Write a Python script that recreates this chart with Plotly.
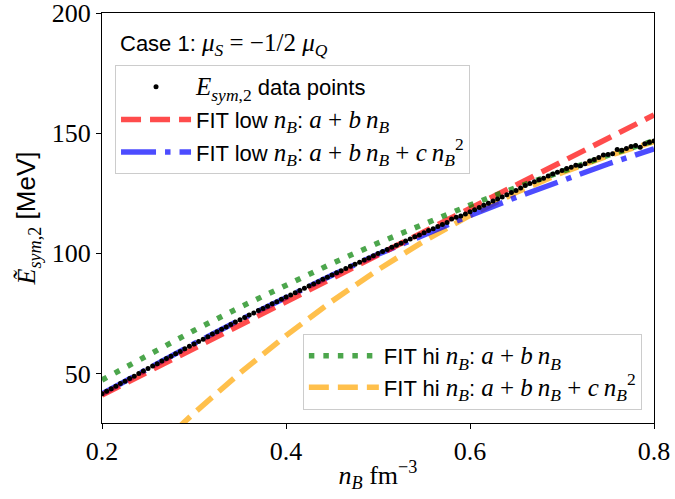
import plotly.graph_objects as go

# ---------------- data ----------------
nB_data = [round(0.200 + 0.005 * i, 3) for i in range(121)]
Esym_data = [
    41.6, 42.6, 43.7, 44.7, 45.8, 46.8, 47.9, 48.9, 50.0, 51.0,
    52.1, 53.1, 54.1, 55.2, 56.2, 57.2, 58.2, 59.2, 60.3, 61.3,
    62.3, 63.3, 64.3, 65.3, 66.4, 67.4, 68.4, 69.4, 70.4, 71.4,
    72.4, 73.3, 74.3, 75.2, 76.2, 77.1, 78.0, 79.0, 79.9, 80.9,
    81.8, 82.7, 83.6, 84.6, 85.5, 86.4, 87.3, 88.2, 89.2, 90.1,
    91.0, 91.9, 92.8, 93.7, 94.6, 95.5, 96.3, 97.2, 98.1, 99.0,
    99.9, 100.8, 101.6, 102.5, 103.4, 104.2, 105.1, 106.0, 106.9, 107.7,
    108.6, 109.5, 110.3, 111.2, 112.0, 112.8, 114.3, 115.0, 115.6, 116.4,
    117.3, 118.2, 119.1, 120.0, 120.9, 121.8, 122.6, 123.5, 124.4, 125.3,
    126.2, 127.2, 128.3, 129.1, 129.8, 130.6, 131.3, 132.2, 133.0, 133.8,
    134.5, 135.3, 135.9, 136.7, 136.5, 137.3, 138.4, 139.1, 139.9, 140.9,
    141.2, 141.5, 143.2, 142.9, 143.7, 144.5, 144.9, 144.2, 145.6, 146.3,
    146.8,
]

fit_low_lin_x = [0.20, 0.80]
fit_low_lin_y = [41.0, 157.6]

fit_grid_x = [0.20, 0.25, 0.30, 0.35, 0.40, 0.45, 0.50, 0.55, 0.60, 0.65, 0.70, 0.75, 0.80]
fit_low_quad_y = [41.5, 52.2, 62.4, 72.3, 81.8, 90.9, 99.6, 107.9, 115.8, 123.3, 130.4, 137.2, 143.5]
fit_hi_lin_y = [47.3, 57.8, 67.9, 77.6, 86.9, 95.8, 104.3, 112.4, 120.1, 127.4, 134.3, 140.8, 146.9]

fit_hi_quad_x = [0.28, 0.30, 0.35, 0.40, 0.45, 0.50, 0.55, 0.60, 0.65, 0.70, 0.75, 0.80]
fit_hi_quad_y = [26.4, 33.5, 50.2, 65.8, 80.1, 93.2, 105.1, 115.8, 125.3, 133.6, 140.6, 146.5]

x_ticks = [0.2, 0.4, 0.6, 0.8]
y_ticks = [50, 100, 150, 200]

# ---------------- styling helpers ----------------
SERIF = "Liberation Serif"
SANS = "Liberation Sans"


def m(s, size=None):
    st = f"font-family:{SERIF}"
    if size:
        st += f";font-size:{size}px"
    return f'<span style="{st}">{s}</span>'


SP = "\u2009"
MS = 25
nB = m("<i>n</i><sub><i>B</i></sub>", MS)
lin = m(f"<i>a</i> + <i>b</i>{SP}<i>n</i><sub><i>B</i></sub>", MS)
quad = m(f"<i>a</i> + <i>b</i>{SP}<i>n</i><sub><i>B</i></sub> + <i>c</i>{SP}<i>n</i><sub><i>B</i></sub><sup>2</sup>", MS)
lab_data = m("<i>E</i><sub><i>sym</i>,2</sub>", MS) + " data points"
lab_low_lin = "FIT low " + nB + ": " + lin
lab_low_quad = "FIT low " + nB + ": " + quad
lab_hi_lin = "FIT hi " + nB + ": " + lin
lab_hi_quad = "FIT hi " + nB + ": " + quad

fig = go.Figure()

fig.add_trace(go.Scatter(
    x=fit_hi_quad_x, y=fit_hi_quad_y, mode="lines", name=lab_hi_quad,
    line=dict(color="rgba(255,165,0,0.7)", width=5.5, dash="20px,9px"),
    legend="legend2", legendrank=5, legendgroup="h2",
))
fig.add_trace(go.Scatter(
    x=fit_grid_x, y=fit_low_quad_y, mode="lines", name=lab_low_quad,
    line=dict(color="rgba(0,0,255,0.7)", width=5.5, dash="35px,9px,5.5px,9px"),
    legend="legend", legendrank=3, legendgroup="g3",
))
fig.add_trace(go.Scatter(
    x=fit_low_lin_x, y=fit_low_lin_y, mode="lines", name=lab_low_lin,
    line=dict(color="rgba(255,0,0,0.7)", width=5.5, dash="20px,9px"),
    legend="legend", legendrank=2, legendgroup="g2",
))
fig.add_trace(go.Scatter(
    x=fit_grid_x, y=fit_hi_lin_y, mode="lines", name=lab_hi_lin,
    line=dict(color="rgba(0,128,0,0.7)", width=5.5, dash="5.5px,9px"),
    legend="legend2", legendrank=4, legendgroup="h1",
))
fig.add_trace(go.Scatter(
    x=nB_data, y=Esym_data, mode="markers", name=lab_data,
    marker=dict(color="black", size=5),
    legend="legend", legendrank=1, legendgroup="g1",
))

axis_common = dict(
    showgrid=False, zeroline=False, showline=True, linecolor="black", linewidth=1,
    mirror=True, ticks="outside", ticklen=5, tickwidth=1, tickcolor="black",
    tickfont=dict(family=SERIF, size=26, color="black"),
    ticklabeloverflow="allow",
)

fig.update_xaxes(
    range=[0.2, 0.8], tickvals=x_ticks, ticktext=[f"{v:.1f}" for v in x_ticks],
    title=dict(text=m("<i>n</i><sub><i>B</i></sub> fm<sup>−3</sup>"),
               font=dict(family=SERIF, size=26, color="black"), standoff=0),
    **axis_common,
)
fig.update_yaxes(
    range=[29.4, 200.05], tickvals=y_ticks, ticktext=[str(v) for v in y_ticks],
    title=dict(text=m("<i>E\u0303</i><sub><i>sym</i>,2</sub>") + " [MeV]",
               font=dict(family=SANS, size=26, color="black"), standoff=8),
    **axis_common,
)

legend_common = dict(
    bgcolor="rgba(255,255,255,0.8)", bordercolor="#cccccc", borderwidth=1,
    font=dict(family=SANS, size=22, color="black"), traceorder="grouped",
    itemclick=False, itemdoubleclick=False, itemwidth=70,
)

fig.update_layout(
    width=675, height=499,
    margin=dict(l=102, r=21, t=13, b=76, autoexpand=False),
    paper_bgcolor="white", plot_bgcolor="white",
    showlegend=True,
    legend=dict(x=0.0236, y=0.873, xanchor="left", yanchor="top",
                tracegroupgap=1, **legend_common),
    legend2=dict(x=0.978, y=0.032, xanchor="right", yanchor="bottom",
                 tracegroupgap=0, **legend_common),
    annotations=[dict(
        text="Case 1: " + m("<i>μ</i><sub><i>S</i></sub> = −1/2 <i>μ</i><sub><i>Q</i></sub>", MS),
        x=0.029, y=0.922, xref="paper", yref="paper", xanchor="left", yanchor="middle",
        showarrow=False, font=dict(family=SANS, size=22, color="black"),
    )],
)

fig.write_html("out.html", config={"displayModeBar": False},
               post_script="document.body.style.margin='0px';")
